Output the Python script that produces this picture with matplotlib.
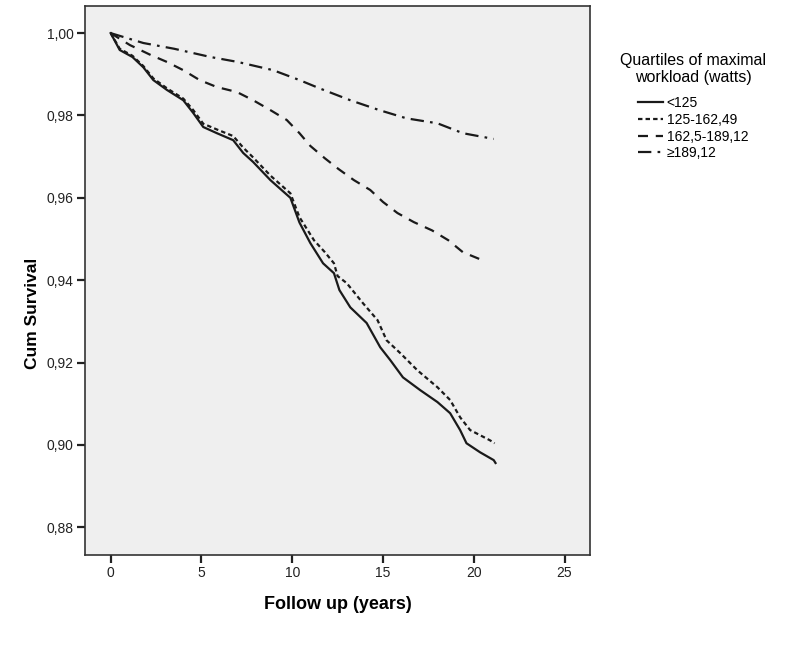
import matplotlib
matplotlib.use("Agg")
from matplotlib import pyplot as plt
from matplotlib.ticker import FuncFormatter

plt.rcParams["font.family"] = ["Liberation Sans", "DejaVu Sans"]

# survival curves
t_q1 = [0, 0.5, 1.2, 1.8, 2.35, 3.1, 4.0, 4.55, 5.1, 5.85, 6.75, 7.3, 7.85, 8.8, 9.9,
        10.4, 11.0, 11.7, 12.3, 12.6, 13.2, 14.1, 14.85, 15.4, 16.1, 17.05, 18.0,
        18.7, 19.25, 19.6, 20.35, 21.1, 21.2]
s_q1 = [1.0, 0.9959, 0.9942, 0.9917, 0.9886, 0.9862, 0.9837, 0.9806, 0.9772, 0.9757,
        0.9740, 0.9709, 0.9687, 0.9643, 0.9600, 0.9540, 0.9490, 0.9441, 0.9417, 0.9376,
        0.9334, 0.9296, 0.9237, 0.9206, 0.9164, 0.9133, 0.9104, 0.9077, 0.9036, 0.9004,
        0.8982, 0.8963, 0.8956]

t_q2 = [0, 0.5, 1.2, 1.8, 2.35, 3.1, 4.0, 4.55, 5.1, 5.85, 6.75, 7.3, 7.85, 8.8, 9.9,
        10.4, 11.2, 11.8, 12.3, 12.5, 13.0, 13.9, 14.7, 15.2, 15.95, 16.9, 18.0, 18.7,
        19.25, 19.8, 20.9, 21.15]
s_q2 = [1.0, 0.9962, 0.9945, 0.9920, 0.9890, 0.9866, 0.9841, 0.9813, 0.9780, 0.9766,
        0.9750, 0.9722, 0.9698, 0.9654, 0.9611, 0.9553, 0.9497, 0.9468, 0.9441, 0.9410,
        0.9393, 0.9344, 0.9303, 0.9254, 0.9223, 0.9181, 0.9140, 0.9109, 0.9067, 0.9036,
        0.9011, 0.9004]

t_q3 = [0, 1.06, 2.2, 3.1, 4.0, 4.9, 5.85, 6.95, 7.85, 8.8, 9.7, 10.4, 11.0, 11.8,
        12.55, 13.4, 14.3, 15.0, 15.8, 16.7, 17.7, 18.6, 19.4, 20.45, 20.7]
s_q3 = [1.0, 0.9971, 0.9947, 0.9930, 0.9910, 0.9886, 0.9869, 0.9857, 0.9837, 0.9813,
        0.9789, 0.9757, 0.9726, 0.9696, 0.9670, 0.9643, 0.9619, 0.9590, 0.9563, 0.9541,
        0.9521, 0.9497, 0.9468, 0.9449, 0.9447]

t_q4 = [0, 1.8, 3.5, 5.5, 7.0, 8.95, 10.4, 11.5, 13.2, 14.8, 16.3, 18.0, 19.4, 21.1]
s_q4 = [1.0, 0.9976, 0.9962, 0.9942, 0.9930, 0.9910, 0.9886, 0.9866, 0.9837, 0.9813,
        0.9793, 0.9781, 0.9757, 0.9743]

labels = ["<125", "125-162,49", "162,5-189,12", "\u2265189,12"]
xticks = [0, 5, 10, 15, 20, 25]
yticks = [0.88, 0.90, 0.92, 0.94, 0.96, 0.98, 1.00]

fig = plt.figure(figsize=(7.86, 6.61), dpi=100)
ax = fig.add_axes([0.108, 0.160, 0.643, 0.831])
ax.set_facecolor("#efefef")

col = "#1a1a1a"
lw = 1.6
ax.plot(t_q1, s_q1, color=col, lw=lw, label=labels[0])
ax.plot(t_q2, s_q2, color=col, lw=lw, dashes=(2.0, 1.4), label=labels[1])
ax.plot(t_q3, s_q3, color=col, lw=lw, dashes=(4.5, 3.5), label=labels[2])
ax.plot(t_q4, s_q4, color=col, lw=lw, dashes=(6.0, 2.8, 1.2, 2.8), label=labels[3])

ax.set_xlim(-1.42, 26.42)
ax.set_ylim(0.8732, 1.0066)
ax.set_xticks(xticks)
ax.set_yticks(yticks)
ax.yaxis.set_major_formatter(FuncFormatter(lambda v, p: f"{v:.2f}".replace(".", ",")))

for s in ax.spines.values():
    s.set_color("#333333")
    s.set_linewidth(1.2)
ax.tick_params(direction="out", length=6, width=1.6, color="#222222",
               labelsize=10, labelcolor="#222222", pad=2)

ax.set_xlabel("Follow up (years)", fontsize=13, fontweight="bold", labelpad=11)
ax.set_ylabel("Cum Survival", fontsize=12.5, fontweight="bold")
ax.yaxis.set_label_coords(-0.089, 0.44)

leg = fig.legend(loc="upper center", bbox_to_anchor=(693 / 786, 1 - 40 / 661),
                 frameon=False, title="Quartiles of maximal\nworkload (watts)",
                 fontsize=10, title_fontsize=11.5, handlelength=1.8,
                 handletextpad=0.3, labelspacing=0.2)
leg.get_title().set_ha("center")
leg._legend_box.sep = 8

fig.savefig("out.png", dpi=100)
